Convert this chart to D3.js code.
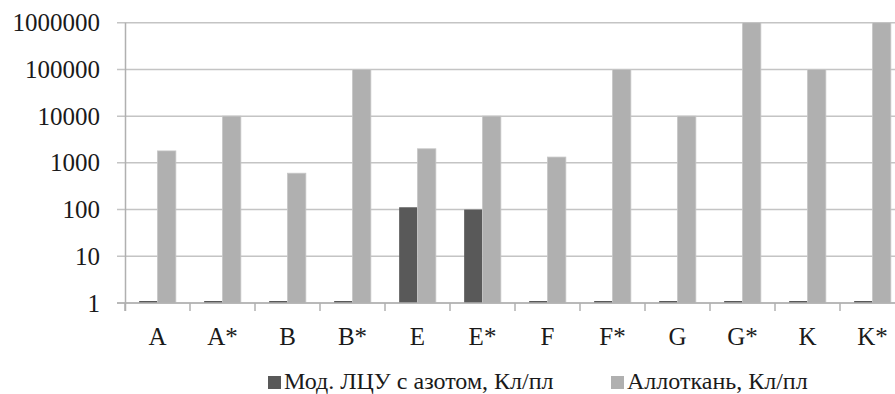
<!DOCTYPE html>
<html>
<head>
<meta charset="utf-8">
<script src="https://cdn.jsdelivr.net/npm/d3@7"></script>
<style>
  body { margin: 0; background: #fff; }
  svg text { font-family: "Liberation Serif", "Times New Roman", Tinos, "DejaVu Serif", serif; }
</style>
</head>
<body>
<svg id="chart"></svg>
<script>
// categories along the x axis
const categories = ["A", "A*", "B", "B*", "E", "E*", "F", "F*", "G", "G*", "K", "K*"];

// series names (legend)
const seriesNames = ["Мод. ЛЦУ с азотом, Кл/пл", "Аллоткань, Кл/пл"];

// values
const modValues = [1, 1, 1, 1, 112, 100, 1, 1, 1, 1, 1, 1];
const alloValues = [1800, 10000, 600, 100000, 2000, 10000, 1330, 100000, 10000, 1000000, 100000, 1000000];

// y tick values
const yTicks = [1, 10, 100, 1000, 10000, 100000, 1000000];

const colors = ["#595959", "#b0b0b0"];
const serif = "'Liberation Serif', 'Times New Roman', Tinos, 'DejaVu Serif', serif";

const width = 895;
const height = 394;

let svg = d3.select("#chart")
  .attr("width", width)
  .attr("height", height);

// band of each category, chart runs past the right edge (clipped as in the picture)
let x = d3.scaleBand()
  .domain(categories)
  .range([125, 905]);

let y = d3.scaleLog()
  .domain([1, 1000000])
  .range([303, 22.7]);

let sub = d3.scaleBand()
  .domain([0, 1])
  .range([0, 36.7]);

// horizontal gridlines
svg.append("g")
  .selectAll("line")
  .data(yTicks)
  .enter()
  .append("line")
  .attr("x1", 117)
  .attr("x2", 905)
  .attr("y1", d => y(d))
  .attr("y2", d => y(d))
  .attr("stroke", "#c4c4c4")
  .attr("stroke-width", 1.5);

// y axis labels
let yAxis = svg.append("g")
  .attr("transform", "translate(125,0)")
  .call(d3.axisLeft(y).tickValues(yTicks).tickFormat(d3.format("d")).tickSize(8).tickPadding(17))
  .attr("font-family", serif);
yAxis.select(".domain").remove();
yAxis.selectAll("line").remove();
yAxis.selectAll("text")
  .attr("font-size", 25)
  .attr("fill", "#1a1a1a")
  .style("font-family", serif);

// bars
const rows = categories.map((c, i) => ({ cat: c, vals: [modValues[i], alloValues[i]] }));

let groups = svg.append("g")
  .selectAll("g")
  .data(rows)
  .enter()
  .append("g")
  .attr("transform", d => "translate(" + (x(d.cat) + x.bandwidth() / 2 - 18.35) + ",0)");

groups.selectAll("rect")
  .data(d => d.vals.map((v, k) => ({ v: v, k: k })))
  .enter()
  .append("rect")
  .attr("x", d => sub(d.k))
  .attr("width", sub.bandwidth())
  .attr("y", d => Math.min(y(d.v), y(1) - 2))
  .attr("height", d => Math.max(y(1) - y(d.v), 2))
  .attr("fill", d => colors[d.k])
  .attr("stroke", d => d.k === 1 ? "#c6c6c6" : "none")
  .attr("stroke-width", 0.8);

// x axis
let xAxis = svg.append("g")
  .attr("transform", "translate(0," + y(1) + ")");
xAxis.append("line")
  .attr("x1", 117)
  .attr("x2", 905)
  .attr("stroke", "#b0b0b0")
  .attr("stroke-width", 1.5);
xAxis.selectAll(".tick")
  .data(categories.concat(["end"]))
  .enter()
  .append("line")
  .attr("x1", (d, i) => 125 + i * x.step())
  .attr("x2", (d, i) => 125 + i * x.step())
  .attr("y1", 0)
  .attr("y2", 8)
  .attr("stroke", "#b0b0b0")
  .attr("stroke-width", 1.5);
xAxis.selectAll("text")
  .data(categories)
  .enter()
  .append("text")
  .attr("x", d => x(d) + x.bandwidth() / 2)
  .attr("y", 42)
  .attr("text-anchor", "middle")
  .attr("font-size", 25)
  .attr("fill", "#1a1a1a")
  .style("font-family", serif)
  .text(d => d);

// y axis line
svg.append("line")
  .attr("x1", 125.5)
  .attr("x2", 125.5)
  .attr("y1", 22.7)
  .attr("y2", 311)
  .attr("stroke", "#b0b0b0")
  .attr("stroke-width", 1.5);

// legend
const legendX = [268, 611];
let legend = svg.append("g")
  .selectAll("g")
  .data(seriesNames)
  .enter()
  .append("g")
  .attr("transform", (d, i) => "translate(" + legendX[i] + ",376)");
legend.append("rect")
  .attr("width", 13)
  .attr("height", 13)
  .attr("fill", (d, i) => colors[i]);
legend.append("text")
  .attr("x", 16)
  .attr("y", 13)
  .attr("font-size", 24)
  .attr("fill", "#1a1a1a")
  .style("font-family", serif)
  .text(d => d);
</script>
</body>
</html>
